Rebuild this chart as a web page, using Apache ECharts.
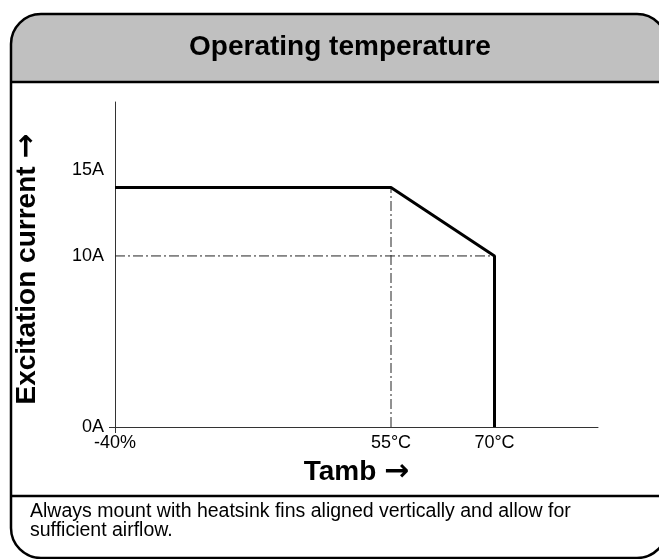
<!DOCTYPE html>
<html>
<head>
<meta charset="utf-8">
<script src="https://cdn.jsdelivr.net/npm/echarts@6/dist/echarts.min.js"></script>
<style>
  html, body { margin: 0; padding: 0; background: #fff; }
  #chart { width: 659px; height: 559px; }
</style>
</head>
<body>
<div id="chart"></div>
<script>
// derating curve: ambient temperature (°C) vs excitation current (A)
const tempC = [-40, 55, 70, 70]
const currentA = [14, 14, 10, 0]

// dash-dot guide lines
const guideH = [[-40, 10], [70, 10]]
const guideV = [[55, 0], [55, 14]]

// tick labels as printed on the sheet
const xTickValues = [-40, 55, 70]
const xTickLabels = ['-40%', '55°C', '70°C']
const yTickValues = [0, 10, 15]
const yTickLabels = ['0A', '10A', '15A']

const footNote = 'Always mount with heatsink fins aligned vertically and allow for\nsufficient airflow.'

const FONT = '"Liberation Sans", Arial, sans-serif'

const nameStyle = {
    fontFamily: FONT,
    fontSize: 28,
    fontWeight: 'bold',
    color: '#000',
    rich: {
        arr: { fontFamily: '"DejaVu Sans"', fontWeight: 'bold', fontSize: 30, color: '#000' }
    }
}

const chart = echarts.init(document.getElementById('chart'))

const option = {
    animation: false,
    backgroundColor: '#fff',
    grid: {
        left: 115,
        right: 61,
        top: 102,
        bottom: 132
    },
    graphic: [
        {
            type: 'rect',
            z: 0,
            shape: { x: 11, y: 14, width: 656, height: 68, r: [30, 30, 0, 0] },
            style: { fill: '#c0c0c0' }
        },
        {
            type: 'rect',
            z: 1,
            shape: { x: 11, y: 14, width: 656, height: 544, r: 30 },
            style: { fill: 'none', stroke: '#000', lineWidth: 2.5 }
        },
        {
            type: 'line',
            z: 1,
            shape: { x1: 11, y1: 82, x2: 667, y2: 82 },
            style: { stroke: '#000', lineWidth: 2.5 }
        },
        {
            type: 'line',
            z: 1,
            shape: { x1: 11, y1: 496, x2: 667, y2: 496 },
            style: { stroke: '#000', lineWidth: 2.5 }
        },
        {
            type: 'text',
            z: 2,
            x: 340,
            y: 47,
            style: {
                text: 'Operating temperature',
                align: 'center',
                verticalAlign: 'middle',
                font: 'bold 28px ' + FONT,
                fill: '#000'
            }
        },
        {
            type: 'text',
            z: 2,
            x: 30,
            y: 502,
            style: {
                text: footNote,
                align: 'left',
                verticalAlign: 'top',
                font: '19.5px ' + FONT,
                lineHeight: 19,
                fill: '#000'
            }
        }
    ],
    xAxis: {
        type: 'value',
        min: -40,
        max: 85,
        // the sheet's temperature axis is not to scale: -40..55 is squeezed
        breaks: [{ start: -39, end: 54, gap: 38 }],
        breakArea: { show: false },
        name: 'Tamb {arr|→}',
        nameLocation: 'middle',
        nameGap: 30,
        nameTextStyle: nameStyle,
        axisLine: { onZero: false, breakLine: false, lineStyle: { color: '#333', width: 1 } },
        axisTick: { show: true, customValues: [-40], length: 6, lineStyle: { color: '#333' } },
        axisLabel: {
            customValues: xTickValues,
            formatter: (v) => xTickLabels[xTickValues.indexOf(v)],
            fontFamily: FONT,
            fontSize: 18,
            color: '#000',
            margin: 7
        },
        splitLine: { show: false }
    },
    yAxis: {
        type: 'value',
        min: 0,
        max: 19,
        name: 'Excitation current {arr|→}',
        nameLocation: 'middle',
        nameGap: 73,
        nameTextStyle: Object.assign({}, nameStyle, { padding: [0, 9, 0, 0] }),
        axisLine: { show: true, onZero: false, lineStyle: { color: '#333', width: 1 } },
        axisTick: { show: true, customValues: [0], length: 6, lineStyle: { color: '#333' } },
        axisLabel: {
            customValues: yTickValues,
            formatter: (v) => yTickLabels[yTickValues.indexOf(v)],
            fontFamily: FONT,
            fontSize: 18,
            color: '#000',
            margin: 11
        },
        splitLine: { show: false }
    },
    series: [
        {
            name: 'guide 10A',
            type: 'line',
            data: guideH,
            showSymbol: false,
            silent: true,
            lineStyle: { color: '#222', width: 1, type: [10, 3, 2, 3] },
            z: 2
        },
        {
            name: 'guide 55C',
            type: 'line',
            data: guideV,
            showSymbol: false,
            silent: true,
            lineStyle: { color: '#222', width: 1, type: [10, 3, 2, 3] },
            z: 2
        },
        {
            name: 'Excitation current',
            type: 'line',
            data: tempC.map((t, i) => [t, currentA[i]]),
            showSymbol: false,
            lineStyle: { color: '#000', width: 3 },
            z: 3
        }
    ]
}

chart.setOption(option)
</script>
</body>
</html>
